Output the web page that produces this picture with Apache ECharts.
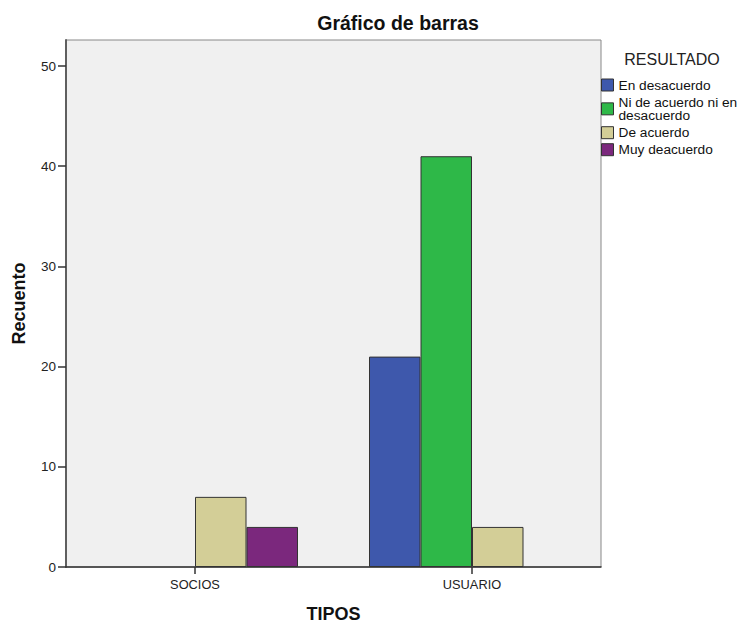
<!DOCTYPE html>
<html>
<head>
<meta charset="utf-8">
<script src="https://cdn.jsdelivr.net/npm/echarts@6/dist/echarts.min.js"></script>
<style>
html,body{margin:0;padding:0;background:#fff;}
#chart{width:741px;height:624px;}
</style>
</head>
<body>
<div id="chart"></div>
<script>
const categories = ['SOCIOS', 'USUARIO'];
const seriesNames = ['En desacuerdo', 'Ni de acuerdo ni en desacuerdo', 'De acuerdo', 'Muy deacuerdo'];
const enDesacuerdo = [0, 21];
const niDeAcuerdo = [0, 41];
const deAcuerdo = [7, 4];
const muyDeacuerdo = [4, 0];
const yTicks = [0, 10, 20, 30, 40, 50];
const colors = ['#3E58AC', '#2EB848', '#D3CE97', '#7B287D'];

const FONT = "'Liberation Sans', Arial, sans-serif";
const values = [enDesacuerdo, niDeAcuerdo, deAcuerdo, muyDeacuerdo];
const Y_MAX = 52.6;

const chart = echarts.init(document.getElementById('chart'), null, {renderer: 'svg'});
chart.setOption({
  animation: false,
  textStyle: {fontFamily: FONT},
  graphic: [
    {type: 'text', x: 398, y: 23, style: {text: 'Gráfico de barras', font: 'bold 19.5px ' + FONT, fill: '#111', align: 'center', verticalAlign: 'middle'}},
    {type: 'text', x: 672, y: 59.5, style: {text: 'RESULTADO', font: '16px ' + FONT, fill: '#222', align: 'center', verticalAlign: 'middle'}}
  ],
  legend: {
    orient: 'vertical',
    left: 601,
    top: 78,
    padding: 0,
    itemWidth: 12,
    itemHeight: 12,
    itemGap: 3,
    icon: 'rect',
    data: seriesNames,
    itemStyle: {borderColor: '#333', borderWidth: 1},
    textStyle: {fontFamily: FONT, fontSize: 13.7, lineHeight: 13.7, color: '#111'},
    formatter: function (name) {
      return name === 'Ni de acuerdo ni en desacuerdo' ? 'Ni de acuerdo ni en\ndesacuerdo' : name;
    }
  },
  grid: [
    {left: 66, right: 140, top: 40, bottom: 57, show: true, backgroundColor: '#F0F0F0', borderColor: '#888', borderWidth: 1, containLabel: false, outerBoundsMode: 'none'},
    {left: 56.5, right: 130.5, top: 40, bottom: 57, show: false, containLabel: false, outerBoundsMode: 'none'}
  ],
  xAxis: [
    {
      type: 'category', gridIndex: 0, data: categories,
      name: 'TIPOS', nameLocation: 'middle', nameGap: 38,
      nameTextStyle: {fontFamily: FONT, fontSize: 18, fontWeight: 'bold', color: '#111'},
      axisLine: {show: true, lineStyle: {color: '#333', width: 1.5}},
      axisTick: {show: false}, axisLabel: {show: false}, splitLine: {show: false}
    },
    {
      type: 'category', gridIndex: 1, data: categories,
      axisLine: {show: false},
      axisTick: {show: true, alignWithLabel: true, length: 7, lineStyle: {color: '#333', width: 1.5}},
      axisLabel: {show: true, margin: 11, fontFamily: FONT, fontSize: 12.8, color: '#222'},
      splitLine: {show: false}
    }
  ],
  yAxis: [
    {
      type: 'value', gridIndex: 0, min: 0, max: Y_MAX,
      name: 'Recuento', nameLocation: 'middle', nameGap: 38, nameRotate: 90,
      nameTextStyle: {fontFamily: FONT, fontSize: 18, fontWeight: 'bold', color: '#111'},
      axisLine: {show: true, lineStyle: {color: '#555', width: 1.8}},
      axisTick: {show: true, length: 8, customValues: yTicks, lineStyle: {color: '#333', width: 1.5}},
      axisLabel: {show: true, margin: 10, customValues: yTicks, fontFamily: FONT, fontSize: 13.5, color: '#222'},
      splitLine: {show: false}
    },
    {type: 'value', gridIndex: 1, min: 0, max: Y_MAX, show: false, splitLine: {show: false}}
  ],
  series: seriesNames.map(function (name, i) {
    return {
      name: name, type: 'bar', xAxisIndex: 1, yAxisIndex: 1,
      data: values[i].map(function (v) {
        return v === 0 ? {value: v, itemStyle: {borderWidth: 0, opacity: 0}} : v;
      }),
      barWidth: 51.5, barGap: '0%',
      itemStyle: {color: colors[i], borderColor: '#333', borderWidth: 1}
    };
  })
});
</script>
</body>
</html>
